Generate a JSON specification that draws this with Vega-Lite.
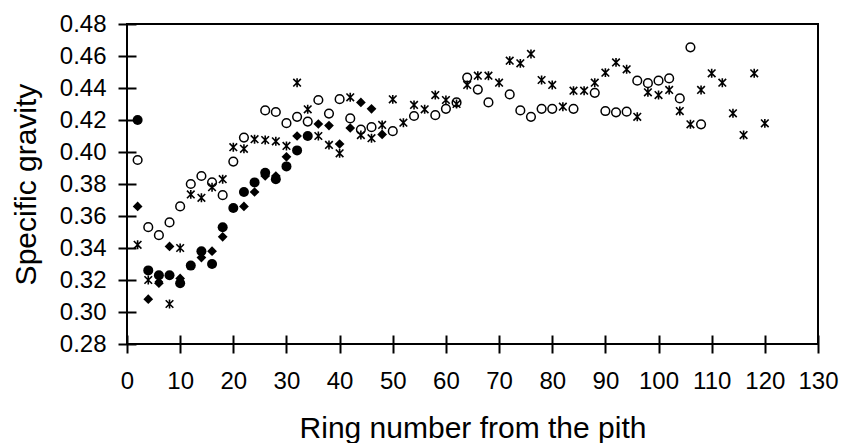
{
  "$schema": "https://vega.github.io/schema/vega-lite/v6.json",
  "width": 691,
  "height": 320,
  "autosize": "none",
  "padding": {"left": 127, "top": 24, "right": 25, "bottom": 99},
  "background": "white",
  "config": {
    "view": {"stroke": "black", "strokeWidth": 2},
    "font": "Liberation Sans",
    "axis": {
      "grid": false,
      "domain": false,
      "offset": -9,
      "tickSize": 18,
      "tickWidth": 2,
      "tickColor": "black",
      "labelFontSize": 24,
      "labelColor": "black",
      "labelFont": "Liberation Sans",
      "titleFont": "Liberation Sans",
      "titleFontSize": 30,
      "titleFontWeight": "normal",
      "titleColor": "black",
      "labelFlush": false,
      "labelOverlap": false
    }
  },
  "data": {
    "values": [
      {"s": "A", "ring": 2, "sg": 0.420}, {"s": "A", "ring": 4, "sg": 0.326}, {"s": "A", "ring": 6, "sg": 0.323}, {"s": "A", "ring": 8, "sg": 0.323},
      {"s": "A", "ring": 10, "sg": 0.318}, {"s": "A", "ring": 12, "sg": 0.329}, {"s": "A", "ring": 14, "sg": 0.338}, {"s": "A", "ring": 16, "sg": 0.330},
      {"s": "A", "ring": 18, "sg": 0.353}, {"s": "A", "ring": 20, "sg": 0.365}, {"s": "A", "ring": 22, "sg": 0.375}, {"s": "A", "ring": 24, "sg": 0.381},
      {"s": "A", "ring": 26, "sg": 0.387}, {"s": "A", "ring": 28, "sg": 0.383}, {"s": "A", "ring": 30, "sg": 0.391}, {"s": "A", "ring": 32, "sg": 0.401},
      {"s": "A", "ring": 34, "sg": 0.410},
      {"s": "B", "ring": 2, "sg": 0.366}, {"s": "B", "ring": 4, "sg": 0.308}, {"s": "B", "ring": 6, "sg": 0.318}, {"s": "B", "ring": 8, "sg": 0.341},
      {"s": "B", "ring": 10, "sg": 0.321}, {"s": "B", "ring": 14, "sg": 0.334}, {"s": "B", "ring": 16, "sg": 0.338}, {"s": "B", "ring": 18, "sg": 0.347},
      {"s": "B", "ring": 22, "sg": 0.366}, {"s": "B", "ring": 24, "sg": 0.375}, {"s": "B", "ring": 26, "sg": 0.385}, {"s": "B", "ring": 28, "sg": 0.385},
      {"s": "B", "ring": 30, "sg": 0.397}, {"s": "B", "ring": 32, "sg": 0.410}, {"s": "B", "ring": 36, "sg": 0.4175}, {"s": "B", "ring": 38, "sg": 0.4165},
      {"s": "B", "ring": 40, "sg": 0.405}, {"s": "B", "ring": 42, "sg": 0.415}, {"s": "B", "ring": 44, "sg": 0.431}, {"s": "B", "ring": 46, "sg": 0.427},
      {"s": "B", "ring": 48, "sg": 0.411},
      {"s": "C", "ring": 2, "sg": 0.395}, {"s": "C", "ring": 4, "sg": 0.353}, {"s": "C", "ring": 6, "sg": 0.348}, {"s": "C", "ring": 8, "sg": 0.356},
      {"s": "C", "ring": 10, "sg": 0.366}, {"s": "C", "ring": 12, "sg": 0.380}, {"s": "C", "ring": 14, "sg": 0.385}, {"s": "C", "ring": 16, "sg": 0.381},
      {"s": "C", "ring": 18, "sg": 0.373}, {"s": "C", "ring": 20, "sg": 0.394}, {"s": "C", "ring": 22, "sg": 0.409}, {"s": "C", "ring": 26, "sg": 0.426},
      {"s": "C", "ring": 28, "sg": 0.425}, {"s": "C", "ring": 30, "sg": 0.418}, {"s": "C", "ring": 32, "sg": 0.422}, {"s": "C", "ring": 34, "sg": 0.419},
      {"s": "C", "ring": 36, "sg": 0.4325}, {"s": "C", "ring": 38, "sg": 0.424}, {"s": "C", "ring": 40, "sg": 0.433}, {"s": "C", "ring": 42, "sg": 0.421},
      {"s": "C", "ring": 44, "sg": 0.414}, {"s": "C", "ring": 46, "sg": 0.4155}, {"s": "C", "ring": 50, "sg": 0.413}, {"s": "C", "ring": 54, "sg": 0.4225},
      {"s": "C", "ring": 58, "sg": 0.423}, {"s": "C", "ring": 60, "sg": 0.427}, {"s": "C", "ring": 62, "sg": 0.431}, {"s": "C", "ring": 64, "sg": 0.4465},
      {"s": "C", "ring": 66, "sg": 0.439}, {"s": "C", "ring": 68, "sg": 0.431}, {"s": "C", "ring": 72, "sg": 0.436}, {"s": "C", "ring": 74, "sg": 0.426},
      {"s": "C", "ring": 76, "sg": 0.422}, {"s": "C", "ring": 78, "sg": 0.427}, {"s": "C", "ring": 80, "sg": 0.427}, {"s": "C", "ring": 84, "sg": 0.427},
      {"s": "C", "ring": 88, "sg": 0.437}, {"s": "C", "ring": 90, "sg": 0.4256}, {"s": "C", "ring": 92, "sg": 0.4248}, {"s": "C", "ring": 94, "sg": 0.4252},
      {"s": "C", "ring": 96, "sg": 0.4446}, {"s": "C", "ring": 98, "sg": 0.443}, {"s": "C", "ring": 100, "sg": 0.4446}, {"s": "C", "ring": 102, "sg": 0.446},
      {"s": "C", "ring": 104, "sg": 0.4335}, {"s": "C", "ring": 106, "sg": 0.4654}, {"s": "C", "ring": 108, "sg": 0.4173},
      {"s": "D", "ring": 2, "sg": 0.342}, {"s": "D", "ring": 4, "sg": 0.320}, {"s": "D", "ring": 6, "sg": 0.321}, {"s": "D", "ring": 8, "sg": 0.305},
      {"s": "D", "ring": 10, "sg": 0.340}, {"s": "D", "ring": 12, "sg": 0.3735}, {"s": "D", "ring": 14, "sg": 0.3714}, {"s": "D", "ring": 16, "sg": 0.378},
      {"s": "D", "ring": 18, "sg": 0.383}, {"s": "D", "ring": 20, "sg": 0.403}, {"s": "D", "ring": 22, "sg": 0.402}, {"s": "D", "ring": 24, "sg": 0.408},
      {"s": "D", "ring": 26, "sg": 0.4075}, {"s": "D", "ring": 28, "sg": 0.4067}, {"s": "D", "ring": 30, "sg": 0.4038}, {"s": "D", "ring": 32, "sg": 0.4433},
      {"s": "D", "ring": 34, "sg": 0.4267}, {"s": "D", "ring": 36, "sg": 0.410}, {"s": "D", "ring": 38, "sg": 0.4044}, {"s": "D", "ring": 40, "sg": 0.3992},
      {"s": "D", "ring": 42, "sg": 0.4342}, {"s": "D", "ring": 44, "sg": 0.4106}, {"s": "D", "ring": 46, "sg": 0.4086}, {"s": "D", "ring": 48, "sg": 0.4169},
      {"s": "D", "ring": 50, "sg": 0.4329}, {"s": "D", "ring": 52, "sg": 0.4183}, {"s": "D", "ring": 54, "sg": 0.4294}, {"s": "D", "ring": 56, "sg": 0.4267},
      {"s": "D", "ring": 58, "sg": 0.4356}, {"s": "D", "ring": 60, "sg": 0.4325}, {"s": "D", "ring": 62, "sg": 0.430}, {"s": "D", "ring": 64, "sg": 0.4419},
      {"s": "D", "ring": 66, "sg": 0.4477}, {"s": "D", "ring": 68, "sg": 0.4477}, {"s": "D", "ring": 70, "sg": 0.4433}, {"s": "D", "ring": 72, "sg": 0.4571},
      {"s": "D", "ring": 74, "sg": 0.4554}, {"s": "D", "ring": 76, "sg": 0.4613}, {"s": "D", "ring": 78, "sg": 0.445}, {"s": "D", "ring": 80, "sg": 0.4419},
      {"s": "D", "ring": 82, "sg": 0.4283}, {"s": "D", "ring": 84, "sg": 0.4383}, {"s": "D", "ring": 86, "sg": 0.4383}, {"s": "D", "ring": 88, "sg": 0.4433},
      {"s": "D", "ring": 90, "sg": 0.4496}, {"s": "D", "ring": 92, "sg": 0.456}, {"s": "D", "ring": 94, "sg": 0.4517}, {"s": "D", "ring": 96, "sg": 0.422},
      {"s": "D", "ring": 98, "sg": 0.4373}, {"s": "D", "ring": 100, "sg": 0.4356}, {"s": "D", "ring": 102, "sg": 0.4388}, {"s": "D", "ring": 104, "sg": 0.4256},
      {"s": "D", "ring": 106, "sg": 0.4173}, {"s": "D", "ring": 108, "sg": 0.4388}, {"s": "D", "ring": 110, "sg": 0.4492}, {"s": "D", "ring": 112, "sg": 0.4433},
      {"s": "D", "ring": 114, "sg": 0.4242}, {"s": "D", "ring": 116, "sg": 0.4106}, {"s": "D", "ring": 118, "sg": 0.4492}, {"s": "D", "ring": 120, "sg": 0.4179}
    ]
  },
  "encoding": {
    "x": {
      "field": "ring", "type": "quantitative",
      "scale": {"domain": [0, 130], "nice": false, "zero": false},
      "axis": {"title": "Ring number from the pith", "values": [0, 10, 20, 30, 40, 50, 60, 70, 80, 90, 100, 110, 120, 130], "labelPadding": 16, "titlePadding": 20}
    },
    "y": {
      "field": "sg", "type": "quantitative",
      "scale": {"domain": [0.28, 0.48], "nice": false, "zero": false},
      "axis": {"title": "Specific gravity", "values": [0.28, 0.30, 0.32, 0.34, 0.36, 0.38, 0.40, 0.42, 0.44, 0.46, 0.48], "format": ".2f", "labelPadding": 12, "titlePadding": 18}
    }
  },
  "layer": [
    {
      "transform": [{"filter": "datum.s === 'C'"}],
      "mark": {"type": "point", "shape": "circle", "filled": false, "stroke": "black", "strokeWidth": 1.5, "size": 75, "opacity": 1}
    },
    {
      "transform": [{"filter": "datum.s === 'D'"}],
      "mark": {"type": "point", "shape": "M0,-1L0,1M-0.85,-0.85L0.85,0.85M-0.85,0.85L0.85,-0.85", "filled": false, "stroke": "black", "strokeWidth": 1.6, "size": 80, "opacity": 1}
    },
    {
      "transform": [{"filter": "datum.s === 'B'"}],
      "mark": {"type": "point", "shape": "diamond", "filled": true, "fill": "black", "size": 95, "opacity": 1}
    },
    {
      "transform": [{"filter": "datum.s === 'A'"}],
      "mark": {"type": "point", "shape": "circle", "filled": true, "fill": "black", "size": 100, "opacity": 1}
    }
  ]
}
